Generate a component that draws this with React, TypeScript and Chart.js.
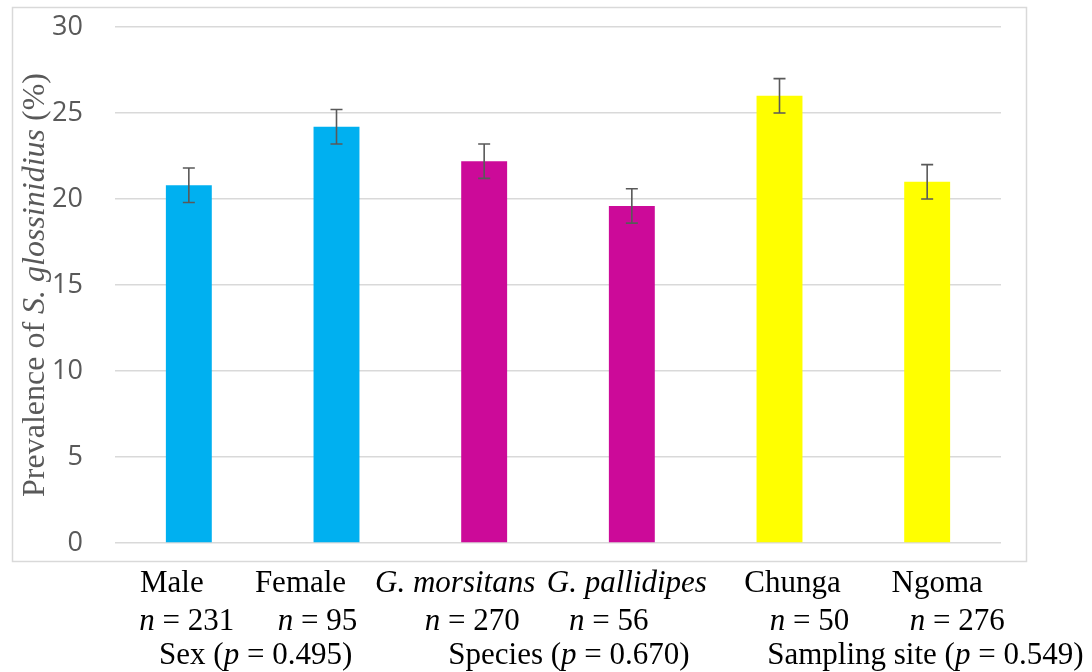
import React, { useEffect, useRef } from "react";
import { Chart, registerables } from "chart.js";

Chart.register(...registerables);

// ---- data ----
const categories = ["Male", "Female", "G. morsitans", "G. pallidipes", "Chunga", "Ngoma"];
const categoryItalic = [false, false, true, true, false, false];
const prevalence = [20.8, 24.2, 22.2, 19.6, 26.0, 21.0];
const errorMargins = [1.0, 1.0, 1.0, 1.0, 1.0, 1.0];
const sampleSizes = [231, 95, 270, 56, 50, 276];
const groupNames = ["Sex", "Species", "Sampling site"];
const groupPValues = ["0.495", "0.670", "0.549"];
const yTickMin = 0;
const yTickMax = 30;
const yTickStep = 5;
const barColors = ["#00B0F0", "#00B0F0", "#CC0A99", "#CC0A99", "#FFFF00", "#FFFF00"];

// ---- layout / style (not data) ----
const SERIF = '"Liberation Serif", "Times New Roman", serif';
const row1Offsets = [-17, -36, -29, -5, 13, 10];
const row2Offsets = [-2, -19, -12, -23, 30, 30];
const row3Offsets = [-7, 11, 72];
const rowBaselines = [592, 630, 664];

type Seg = { t: string; i?: boolean };

function drawSegs(ctx: CanvasRenderingContext2D, segs: Seg[], cx: number, y: number, size: number, color: string) {
  const fonts = segs.map((s) => `${s.i ? "italic " : ""}${size}px ${SERIF}`);
  let total = 0;
  const widths = segs.map((s, k) => {
    ctx.font = fonts[k];
    const w = ctx.measureText(s.t).width;
    total += w;
    return w;
  });
  let x = cx - total / 2;
  ctx.fillStyle = color;
  ctx.textAlign = "left";
  ctx.textBaseline = "alphabetic";
  segs.forEach((s, k) => {
    ctx.font = fonts[k];
    ctx.fillText(s.t, x, y);
    x += widths[k];
  });
}

const framePlugin = {
  id: "frame",
  beforeDraw(chart: any) {
    const ctx = chart.ctx as CanvasRenderingContext2D;
    ctx.save();
    ctx.fillStyle = "#ffffff";
    ctx.fillRect(0, 0, chart.width, chart.height);
    ctx.strokeStyle = "#d9d9d9";
    ctx.lineWidth = 1.5;
    ctx.strokeRect(12.5, 7.5, 1014, 554);
    ctx.restore();
  },
};

const errorBarPlugin = {
  id: "errorBars",
  afterDatasetsDraw(chart: any) {
    const ctx = chart.ctx as CanvasRenderingContext2D;
    const meta = chart.getDatasetMeta(0);
    const y = chart.scales.y;
    ctx.save();
    ctx.strokeStyle = "#595959";
    ctx.lineWidth = 1.6;
    meta.data.forEach((bar: any, i: number) => {
      const v = prevalence[i];
      const e = errorMargins[i];
      const top = y.getPixelForValue(v + e);
      const bot = y.getPixelForValue(v - e);
      const x = bar.x;
      ctx.beginPath();
      ctx.moveTo(x, top);
      ctx.lineTo(x, bot);
      ctx.moveTo(x - 6, top);
      ctx.lineTo(x + 6, top);
      ctx.moveTo(x - 6, bot);
      ctx.lineTo(x + 6, bot);
      ctx.stroke();
    });
    ctx.restore();
  },
};

const textPlugin = {
  id: "texts",
  afterDraw(chart: any) {
    const ctx = chart.ctx as CanvasRenderingContext2D;
    const xs = chart.scales.x;
    const area = chart.chartArea;
    ctx.save();
    // y-axis title
    ctx.translate(44, (area.top + area.bottom) / 2);
    ctx.rotate(-Math.PI / 2);
    drawSegs(
      ctx,
      [{ t: "Prevalence of " }, { t: "S. glossinidius", i: true }, { t: " (%)" }],
      0,
      0,
      32,
      "#595959"
    );
    ctx.restore();

    ctx.save();
    const centers = categories.map((_, i) => xs.getPixelForValue(i));
    categories.forEach((c, i) => {
      drawSegs(ctx, [{ t: c, i: categoryItalic[i] }], centers[i] + row1Offsets[i], rowBaselines[0], 31, "#000000");
      drawSegs(
        ctx,
        [{ t: "n", i: true }, { t: " = " + sampleSizes[i] }],
        centers[i] + row2Offsets[i],
        rowBaselines[1],
        31,
        "#000000"
      );
    });
    groupNames.forEach((g, k) => {
      const mid = (centers[2 * k] + centers[2 * k + 1]) / 2;
      drawSegs(
        ctx,
        [{ t: g + " (" }, { t: "p", i: true }, { t: " = " + groupPValues[k] + ")" }],
        mid + row3Offsets[k],
        rowBaselines[2],
        31,
        "#000000"
      );
    });
    ctx.restore();
  },
};

export default function App() {
  const ref = useRef<HTMLCanvasElement | null>(null);
  useEffect(() => {
    if (!ref.current) return;
    const chart = new Chart(ref.current, {
      type: "bar",
      data: {
        labels: categories,
        datasets: [
          {
            data: prevalence,
            backgroundColor: barColors,
            borderWidth: 0,
            categoryPercentage: 1,
            barPercentage: 0.311,
          },
        ],
      },
      options: {
        animation: false,
        responsive: true,
        maintainAspectRatio: false,
        layout: { padding: { left: 0, top: 27, right: 91, bottom: 129 } },
        plugins: { legend: { display: false }, tooltip: { enabled: false }, title: { display: false } },
        scales: {
          x: {
            display: false,
            grid: { display: false },
          },
          y: {
            min: yTickMin,
            max: yTickMax,
            afterFit: (scale: any) => {
              scale.width = 115;
              scale.paddingTop = 0;
              scale.paddingBottom = 0;
            },
            border: { display: false },
            grid: { color: "#d9d9d9", lineWidth: 1.6, drawTicks: false },
            ticks: {
              stepSize: yTickStep,
              padding: 32,
              color: "#595959",
              font: { family: '"Open Sans", sans-serif', size: 27 },
            },
          },
        },
      },
      plugins: [framePlugin, errorBarPlugin, textPlugin],
    });
    return () => chart.destroy();
  }, []);
  return (
    <div style={{ position: "absolute", left: 0, top: 0, width: 1092, height: 672, background: "#fff" }}>
      <canvas ref={ref} />
    </div>
  );
}
